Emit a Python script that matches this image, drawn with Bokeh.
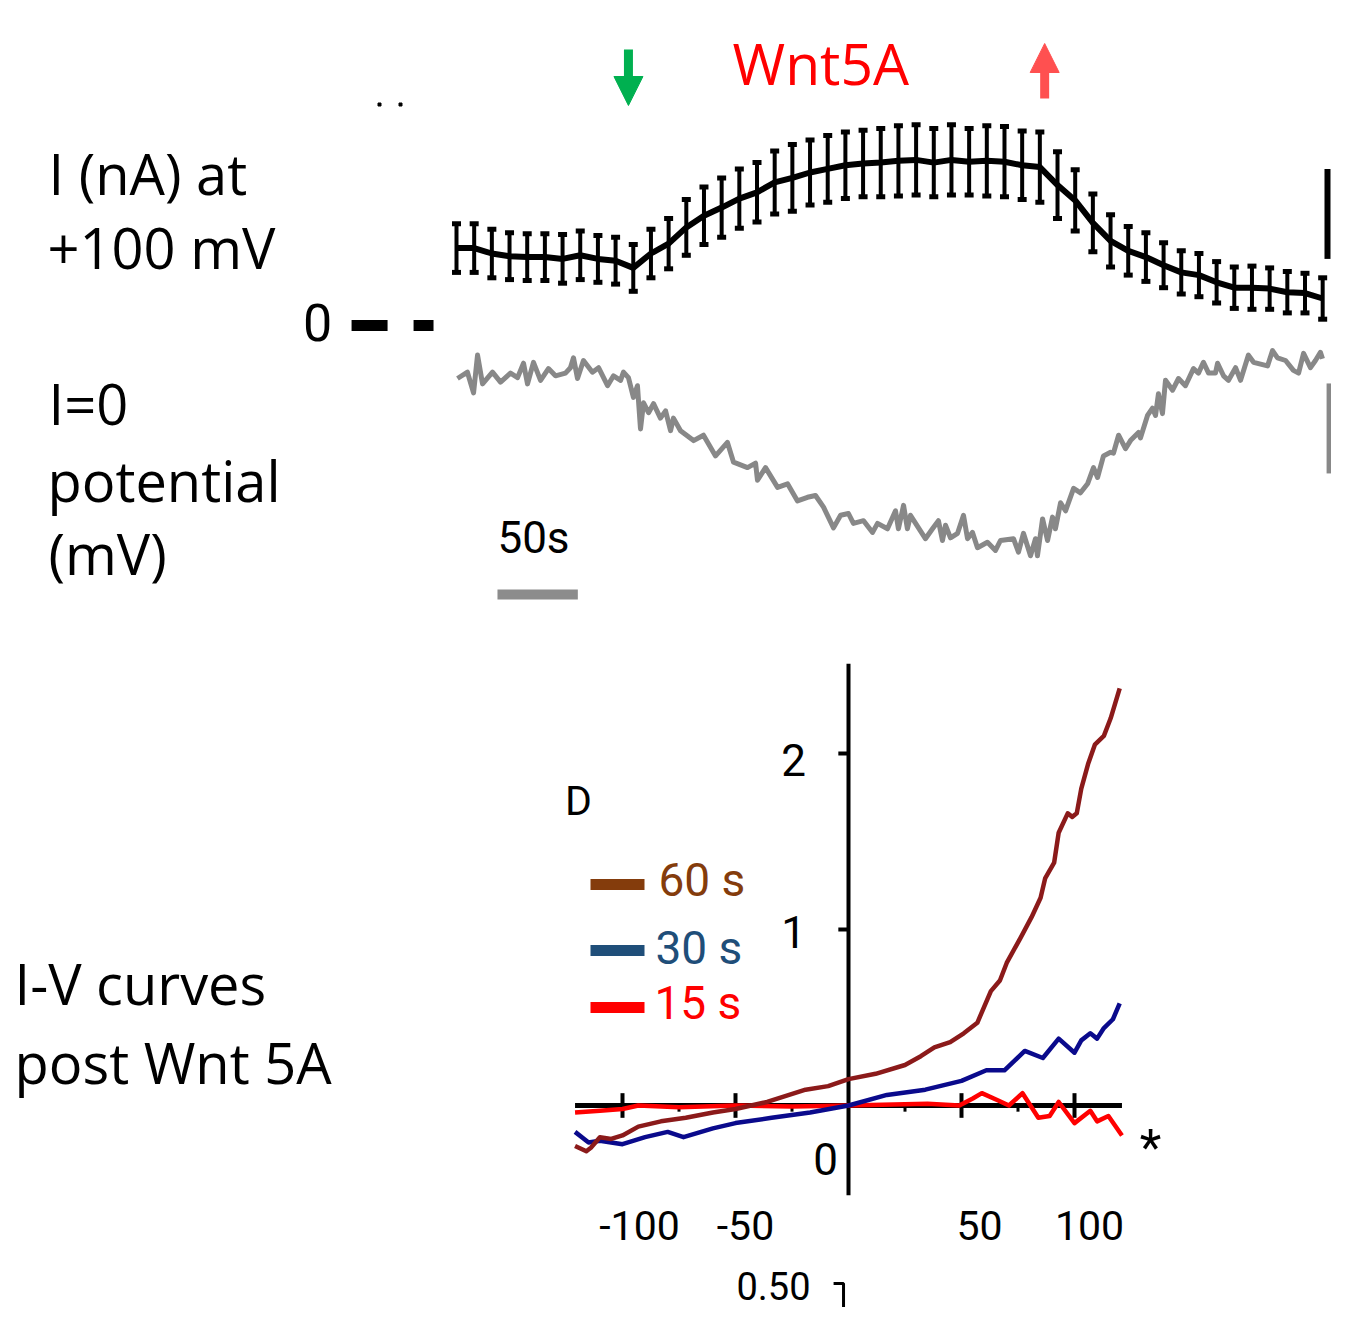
import numpy as np
from bokeh.plotting import figure
from bokeh.models import Range1d, Arrow, NormalHead
from bokeh.core.properties import value
from bokeh.embed import file_html
from bokeh.resources import INLINE

# ---------------- DATA ----------------
# Top trace: I (nA) at +100 mV, mean +/- SEM every 11 s
bar_t = [0, 11, 22, 33, 44, 55, 66, 77, 88, 99, 110, 121, 132, 143, 154, 165, 176, 187, 198, 209,
         220, 231, 242, 253, 264, 275, 286, 297, 308, 319, 330, 341, 352, 363, 374, 385, 396, 407,
         418, 429, 440, 451, 462, 473, 484, 495, 506, 517, 528, 539]
cur_mean = [0.86, 0.86, 0.80, 0.77, 0.76, 0.76, 0.74, 0.78, 0.74, 0.72, 0.64, 0.80, 0.91, 1.09,
            1.22, 1.31, 1.41, 1.48, 1.59, 1.64, 1.70, 1.74, 1.78, 1.80, 1.81, 1.83, 1.84, 1.81,
            1.84, 1.82, 1.83, 1.82, 1.78, 1.76, 1.56, 1.39, 1.14, 0.94, 0.83, 0.76, 0.67, 0.59,
            0.56, 0.48, 0.42, 0.42, 0.41, 0.37, 0.36, 0.30]
cur_sem = [0.27, 0.27, 0.27, 0.26, 0.26, 0.26, 0.27, 0.27, 0.26, 0.26, 0.26, 0.27, 0.28, 0.31,
           0.32, 0.33, 0.33, 0.33, 0.35, 0.37, 0.36, 0.37, 0.37, 0.37, 0.38, 0.39, 0.39, 0.38,
           0.39, 0.37, 0.39, 0.39, 0.38, 0.39, 0.37, 0.34, 0.32, 0.29, 0.27, 0.27, 0.25, 0.24,
           0.24, 0.23, 0.23, 0.24, 0.23, 0.23, 0.22, 0.23]

# I=0 potential trace (mV, relative)
pot_t = [0.6, 6.8, 10.6, 13.1, 16.2, 22.4, 27.4, 33.6, 38.0, 41.7, 44.2, 47.9, 52.3, 57.2, 61.6,
         67.8, 70.9, 72.8, 75.3, 79.0, 84.6, 88.4, 94.0, 97.7, 102.1, 103.9, 107.0, 110.1, 112.6,
         114.5, 116.4, 119.5, 122.6, 126.9, 130.1, 133.2, 135.0, 139.4, 147.5, 153.7, 161.2,
         168.6, 172.4, 181.1, 186.1, 187.3, 192.3, 199.8, 206.0, 212.2, 218.4, 223.4, 228.4,
         234.6, 239.0, 243.9, 247.0, 253.3, 258.9, 262.0, 268.2, 273.2, 275.0, 278.2, 280.6,
         282.5, 291.8, 296.2, 299.9, 302.4, 304.3, 307.4, 311.8, 315.5, 318.0, 321.1, 324.2,
         330.4, 335.4, 338.5, 346.6, 349.7, 352.8, 357.2, 360.3, 361.5, 364.7, 367.8, 370.9,
         372.7, 375.9, 379.0, 384.0, 388.3, 392.7, 396.4, 398.9, 402.6, 407.0, 408.8, 412.0,
         416.3, 419.4, 424.4, 425.6, 430.0, 433.1, 435.0, 436.8, 439.3, 441.2, 445.6, 449.3,
         453.6, 458.6, 461.7, 464.8, 468.0, 472.3, 473.6, 477.3, 480.4, 484.8, 487.9, 492.8,
         496.0, 504.7, 507.8, 510.9, 515.9, 520.8, 524.0, 527.1, 531.4, 534.5, 537.6, 538.9]
pot_mv = [0.0, 0.7, -1.6, 2.6, -0.6, 0.7, -0.4, 0.6, 0.1, 1.7, -0.6, 1.8, -0.2, 1.1, 0.3,
          0.6, 1.2, 2.3, 0.0, 2.0, 0.7, 1.2, -0.8, 0.3, -0.2, 0.7, 0.1, -2.1, -0.8,
          -5.6, -2.7, -3.8, -2.8, -4.4, -3.6, -5.8, -4.4, -5.8, -6.9, -6.3, -8.6,
          -7.1, -9.3, -9.9, -9.4, -11.3, -9.9, -12.1, -11.7, -13.6, -13.2, -13.0, -14.3,
          -16.6, -15.2, -15.0, -16.1, -15.8, -17.1, -16.1, -16.7, -14.7, -16.7, -14.1, -16.7,
          -15.2, -17.8, -16.7, -15.8, -18.0, -16.3, -17.7, -17.2, -15.2, -17.8, -17.1, -18.8,
          -18.2, -19.1, -18.0, -17.8, -19.3, -17.2, -19.7, -17.8, -19.7, -15.6, -18.0, -15.4,
          -16.7, -13.8, -14.7, -12.2, -12.7, -11.7, -9.9, -11.0, -8.6, -8.2, -8.3, -6.3,
          -7.8, -6.9, -6.0, -6.6, -4.1, -3.3, -4.1, -1.7, -3.9, -0.2, -1.3, 0.0,
          -0.8, 1.1, 0.6, 1.8, 0.6, 0.6, 1.7, 0.3, -0.2, 1.2, -0.2, 2.6,
          1.8, 1.4, 3.1, 2.3, 2.0, 0.9, 0.6, 2.8, 1.2, 2.0, 2.9, 2.2]

wnt_on_t = 107    # green arrow (Wnt5A applied)
wnt_off_t = 366   # red arrow (washout)

# I-V curves post Wnt 5A (mV, nA)
iv60_v = [-121, -116, -114, -110, -105, -100, -93, -83, -72, -60, -50, -36, -19, -9, 0, 12, 25,
          32, 38, 45, 51, 57, 63, 67, 70, 76, 81, 85, 87, 91, 93, 97, 99, 101, 103, 106, 109,
          113, 116, 120]
iv60_i = [-0.23, -0.26, -0.24, -0.18, -0.19, -0.17, -0.12, -0.09, -0.07, -0.04, -0.02, 0.02,
          0.09, 0.11, 0.15, 0.18, 0.23, 0.28, 0.33, 0.36, 0.41, 0.47, 0.65, 0.71, 0.81, 0.95,
          1.07, 1.18, 1.29, 1.38, 1.55, 1.66, 1.64, 1.66, 1.80, 1.94, 2.05, 2.10, 2.20, 2.37]
iv30_v = [-121, -115, -110, -100, -90, -80, -73, -60, -50, -34, -17, 0, 17, 34, 50, 61, 69, 78,
          86, 93, 100, 103, 107, 110, 113, 117, 120]
iv30_i = [-0.15, -0.21, -0.20, -0.22, -0.18, -0.15, -0.18, -0.13, -0.10, -0.07, -0.04, 0.0,
          0.06, 0.09, 0.14, 0.20, 0.20, 0.31, 0.27, 0.38, 0.30, 0.37, 0.41, 0.38, 0.44, 0.49, 0.58]
iv15_v = [-121, -110, -100, -93, -75, -50, -25, 0, 20, 35, 49, 55, 59, 66, 71, 77, 84, 89, 93,
          100, 107, 110, 115, 121]
iv15_i = [-0.04, -0.03, -0.02, 0.0, -0.01, 0.0, -0.005, 0.0, 0.005, 0.01, 0.0, 0.04, 0.07, 0.03,
          0.0, 0.07, -0.07, -0.06, 0.02, -0.10, -0.03, -0.09, -0.06, -0.17]

legend_labels = ["60 s", "30 s", "15 s"]
x_ticks = [-100, -50, 50, 100]
x_minor = [-75, -25, 25, 75]
y_ticks = [1, 2]

# ---------------- LAYOUT ----------------
W, H = 1331, 1307
OPEN = value("Open Sans")
NARROW = value("Roboto")

p = figure(width=W, height=H, x_range=Range1d(0, W), y_range=Range1d(H, 0),
           output_backend="svg", toolbar_location=None,
           x_axis_location=None, y_axis_location=None, min_border=0)
p.grid.visible = False
p.outline_line_color = None
p.background_fill_color = "white"


def rng(origin, per_unit, lo_px, hi_px):
    return Range1d((lo_px - origin) / per_unit, (hi_px - origin) / per_unit)


# time axis: x = 456 + 1.607 t ; current: y = 325 - 90 I ; potential: y = 378 - 9 V
p.extra_x_ranges = {"t": rng(456, 1.607, 0, W), "mv": rng(848, 2.26, 0, W)}
p.extra_y_ranges = {"i": rng(325, -90, H, 0), "v": rng(378, -9, H, 0),
                    "iv": rng(1105, -176, H, 0)}

# ----- top: current trace with error bars -----
mean = np.array(cur_mean)
sem = np.array(cur_sem)
p.segment(x0=bar_t, y0=mean - sem, x1=bar_t, y1=mean + sem, x_range_name="t", y_range_name="i",
          line_color="black", line_width=4)
p.scatter(x=bar_t + bar_t, y=list(mean - sem) + list(mean + sem), marker="dash", size=9,
          line_width=5, line_color="black", x_range_name="t", y_range_name="i")
p.line(bar_t, cur_mean, x_range_name="t", y_range_name="i", line_color="black", line_width=6,
       line_join="round")

# zero-current reference dash and scale bar (1 nA)
p.line([-65.3, -14.3], [0, 0], x_range_name="t", y_range_name="i", line_color="black",
       line_width=11, line_dash="36 26")
p.line([542.0, 542.0], [0.74, 1.74], x_range_name="t", y_range_name="i", line_color="black",
       line_width=6)

# ----- potential trace -----
p.line(pot_t, pot_mv, x_range_name="t", y_range_name="v", line_color="#888888", line_width=5,
       line_join="round")
p.line([543.3, 543.3], [-10.55, -0.55], x_range_name="t", y_range_name="v",
       line_color="#888888", line_width=6)
# 50 s time scale bar
p.line([25.5, 75.5], [594, 594], x_range_name="t", line_color="#8c8c8c", line_width=10)

# arrows
p.add_layout(Arrow(x_start=wnt_on_t, y_start=49, x_end=wnt_on_t, y_end=105, x_range_name="t",
                   line_color="#00b050", line_width=9,
                   end=NormalHead(size=29, fill_color="#00b050", line_color="#00b050")))
p.add_layout(Arrow(x_start=wnt_off_t, y_start=98, x_end=wnt_off_t, y_end=43, x_range_name="t",
                   line_color="#ff5050", line_width=9,
                   end=NormalHead(size=29, fill_color="#ff5050", line_color="#ff5050")))

p.scatter(x=[379, 400], y=[104, 104], marker="square", size=3, color="black")

# texts (top)
p.text(x=[732], y=[62], text=["Wnt5A"], text_font=OPEN, text_font_size="57px",
       text_color="#ff0000", text_baseline="middle")
p.text(x=[48, 47, 48, 47, 48, 14, 14], y=[172, 246, 402, 479, 552, 982, 1061],
       text=["I (nA) at", "+100 mV", "I=0", "potential", "(mV)", "I-V curves", "post Wnt 5A"],
       text_font=OPEN, text_font_size="56px", text_color="black", text_baseline="middle")
p.text(x=[317], y=[322], text=["0"], text_font=NARROW, text_font_size="52px",
       text_align="center", text_baseline="middle", text_color="black")
p.text(x=[533], y=[537], text=["50s"], text_font=NARROW, text_font_size="44px",
       text_align="center", text_baseline="middle", text_color="black")

# ----- bottom: I-V curves -----
p.line([0, 0], [-0.51, 2.51], x_range_name="mv", y_range_name="iv", line_color="black",
       line_width=4)
p.line([-121, 121], [0, 0], x_range_name="mv", y_range_name="iv", line_color="black",
       line_width=5)
p.segment(x0=x_ticks, y0=[0.07] * 4, x1=x_ticks, y1=[-0.07] * 4, x_range_name="mv",
          y_range_name="iv", line_color="black", line_width=4)
p.segment(x0=x_minor, y0=[0] * 4, x1=x_minor, y1=[-0.035] * 4, x_range_name="mv",
          y_range_name="iv", line_color="black", line_width=3)
p.segment(x0=[-4.5] * 2, y0=y_ticks, x1=[0] * 2, y1=y_ticks, x_range_name="mv",
          y_range_name="iv", line_color="black", line_width=4)

p.line(iv15_v, iv15_i, x_range_name="mv", y_range_name="iv", line_color="#ff0000",
       line_width=4.5, line_join="round")
p.line(iv30_v, iv30_i, x_range_name="mv", y_range_name="iv", line_color="#0a0a8c",
       line_width=4.5, line_join="round")
p.line(iv60_v, iv60_i, x_range_name="mv", y_range_name="iv", line_color="#8b1a1a",
       line_width=4.5, line_join="round")

# tick labels (set slightly right of their ticks, as in the original)
p.text(x=x_ticks, y=[1225] * 4, x_offset=[17, 10, 18, 15], text=[str(v) for v in x_ticks],
       x_range_name="mv", text_font=NARROW, text_font_size="41px", text_align="center",
       text_baseline="middle", text_color="black")
p.text(x=[793] * 2, y=y_ticks, y_offset=[2, 6], text=[str(v) for v in y_ticks],
       y_range_name="iv", text_font=NARROW, text_font_size="44px", text_align="center",
       text_baseline="middle", text_color="black")
p.text(x=[825], y=[1158], text=["0"], text_font=NARROW, text_font_size="44px",
       text_align="center", text_baseline="middle", text_color="black")
p.text(x=[1150], y=[1147], text=["*"], text_font=NARROW, text_font_size="50px",
       text_align="center", text_baseline="middle", text_color="black")
p.text(x=[773], y=[1285], text=["0.50"], text_font=NARROW, text_font_size="38px",
       text_align="center", text_baseline="middle", text_color="black")
p.text(x=[578], y=[800], text=["D"], text_font=NARROW, text_font_size="41px",
       text_align="center", text_baseline="middle", text_color="black")
# 0.50 scale bracket
p.line([-6.6, -2.2, -2.2], [-1.011, -1.011, -1.511], x_range_name="mv", y_range_name="iv",
       line_color="black", line_width=3)

# legend
leg_colors = ["#843c0c", "#1f4e79", "#ff0000"]
p.segment(x0=[590] * 3, y0=[884, 950, 1007], x1=[644] * 3, y1=[884, 950, 1007],
          line_color=leg_colors, line_width=11)
p.text(x=[658, 655, 654], y=[879, 947, 1002], text=legend_labels, text_font=NARROW,
       text_font_size="46px", text_color=leg_colors, text_baseline="middle")

open("out.html", "w").write(file_html(p, INLINE))
